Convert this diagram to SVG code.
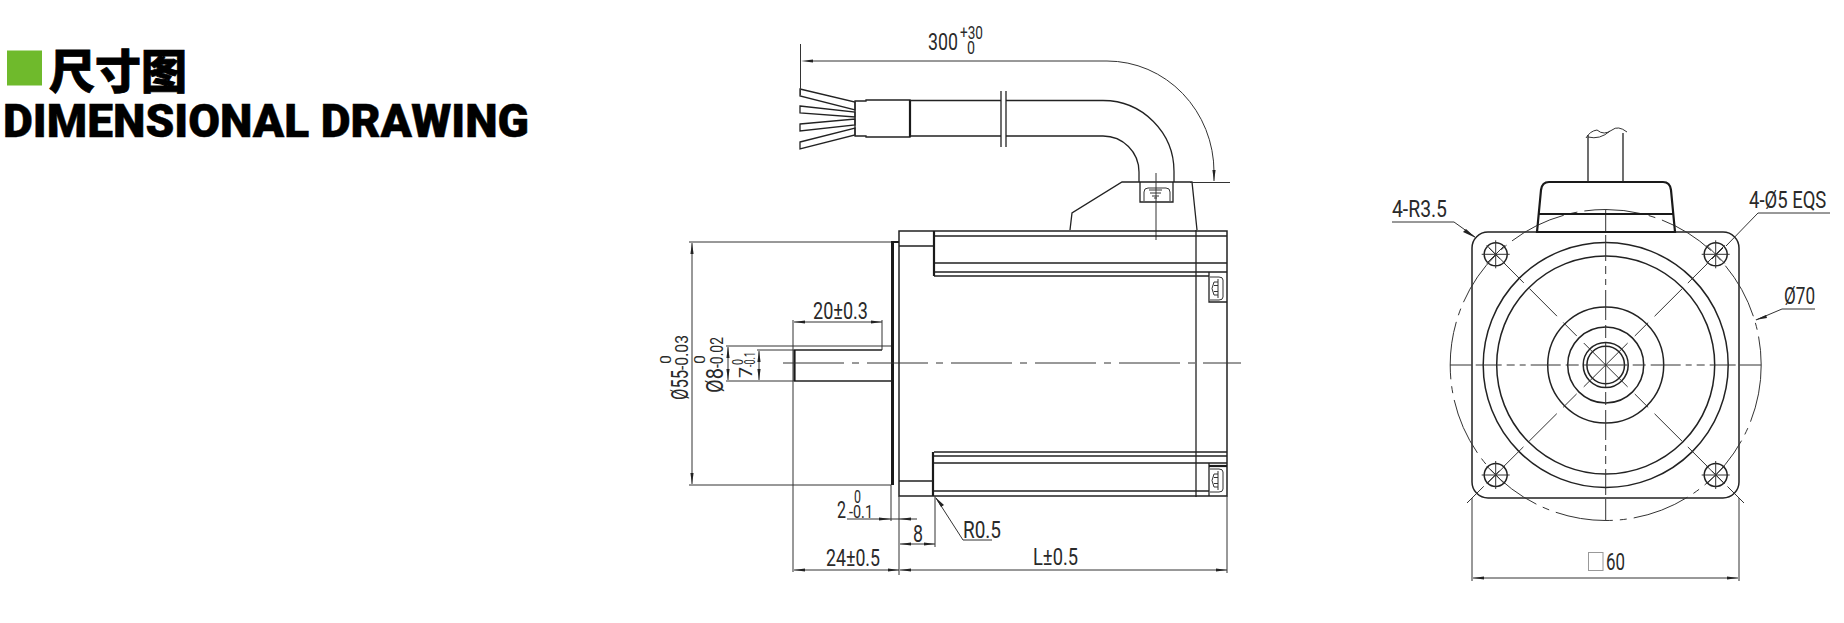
<svg xmlns="http://www.w3.org/2000/svg" width="1844" height="623" viewBox="0 0 1844 623">
<style>
.t{fill:none;stroke:#333;stroke-width:1}
.m{fill:none;stroke:#222;stroke-width:1.3}
.k{fill:none;stroke:#1a1a1a;stroke-width:2.2}
.f{fill:none;stroke:#222;stroke-width:1.5}
.c{fill:none;stroke:#333;stroke-width:1;stroke-dasharray:61 8 7 8}
.h{fill:none;stroke:#333;stroke-width:1;stroke-dasharray:22 5 13 5 30 5 6 5 8 5 26 4 22}
.g{fill:none;stroke:#333;stroke-width:1;stroke-dasharray:31 10 19 9 39 8 28 6 16 6 26}
.d{fill:none;stroke:#333;stroke-width:1;marker-start:url(#as);marker-end:url(#a)}
.e{fill:none;stroke:#333;stroke-width:1;marker-end:url(#a)}
text{font-family:Roboto,"Liberation Sans",sans-serif;fill:#2a2a2a;font-size:24px;font-weight:400}
.s{font-size:18px}
.x{font-size:14px}
</style>
<defs>
<marker id="a" markerUnits="userSpaceOnUse" markerWidth="12" markerHeight="6" refX="11" refY="3" orient="auto"><path d="M0 1.4L11 3L0 4.6Z" fill="#222"/></marker>
<marker id="as" markerUnits="userSpaceOnUse" markerWidth="12" markerHeight="6" refX="1" refY="3" orient="auto"><path d="M12 1.4L1 3L12 4.6Z" fill="#222"/></marker>
<g id="scr"><path class="t" d="M0 0H9Q13 0 13 3V20Q13 23 9 23H0"/><path class="t" d="M8 5H4L2 11.500L4 18H8M8 2V21M4 8.500H8M4 14.500H8"/></g>
<g id="hole"><circle r="11.500" class="f"/><path class="t" d="M-14 0H14M0 -14V14M-9 -9L9 9M-9 9L9 -9"/></g>
</defs>
<g id="title">
<rect x="7" y="50.500" width="35" height="35" fill="#6fba2c"/>
<text x="49" y="88" textLength="138" lengthAdjust="spacingAndGlyphs" style="font-family:'Noto Sans CJK SC','Noto Sans',sans-serif;font-size:46px;font-weight:900;fill:#000;stroke:#000;stroke-width:.8">尺寸图</text>
<text x="3" y="137" textLength="526" lengthAdjust="spacingAndGlyphs" style="font-family:Roboto,'Liberation Sans',sans-serif;font-size:46.500px;font-weight:900;fill:#000;stroke:#000;stroke-width:.5">DIMENSIONAL DRAWING</text>
</g>
<g id="side-view">
<path class="m" d="M800 89L855 102V110L800 96ZM800 106L855 112V117L800 113ZM800 124L855 119V125L800 131ZM800 142L855 128V135L800 149Z"/>
<path class="m" d="M855 101H866V100H910V137H866V136H855Z"/>
<path class="k" d="M910 100V137"/>
<path class="m" d="M910 100.500H1001M1006 100.500H1103A71 71 0 0 1 1174 172V182M910 136H1001M1006 136H1103A36 36 0 0 1 1139 172V182"/>
<path class="m" d="M1001 91V147M1006 91V147"/>
<path class="m" d="M1070 230L1072 213L1122 182H1192L1197 230"/>
<path class="m" d="M1140 182V202H1173V182"/>
<path class="t" d="M1144 201V192Q1144 188 1148 188H1166Q1170 188 1170 192V201M1149 190H1162M1150 193H1161M1152 196H1159M1154 198H1157"/>
<path class="t" d="M1156 173V240"/>
<path class="f" d="M899 231H1227V496H899Z"/>
<path class="m" d="M935 236H1227M899 246H933M934 263H1227M934 272H1227M934 276H1209M1196 230V497M1209 272V302H1227"/>
<path class="k" d="M934 231V276M933 452V496M891 242H899"/>
<path class="k" style="stroke-width:3" d="M892.500 242V485"/>
<path class="m" d="M899 481H933M934 452H1227M934 456H1227M934 463H1227M934 491H1209M1209 463V496"/>
<path class="k" d="M1209 466H1227"/>
<path class="m" d="M794 381H891M794 350H882"/>
<path class="k" d="M794.500 350V381"/>
<use href="#scr" x="1210" y="277"/>
<use href="#scr" x="1210" y="469"/>
<path class="c" d="M783 363H1241"/>
</g>
<g id="front-view">
<rect x="1472" y="232" width="267" height="266" rx="16" class="f"/>
<circle cx="1605.700" cy="365" r="122.500" class="f"/>
<circle cx="1605.700" cy="365" r="109" class="f"/>
<circle cx="1605.700" cy="365" r="58" class="f"/>
<circle cx="1605.700" cy="365" r="38" class="f"/>
<circle cx="1605.700" cy="365" r="22.500" class="f"/>
<circle cx="1605.700" cy="365" r="18.800" class="f"/>
<circle cx="1605.700" cy="365" r="155.500" class="t" stroke-dasharray="58 7 7 7"/>
<path class="h" d="M1605.700 365H1450M1605.700 365H1761M1605.700 365V209M1605.700 365V521"/>
<path class="g" d="M1605.700 365L1467 503M1605.700 365L1744 503M1605.700 365L1489 248M1605.700 365L1723 248"/>
<use href="#hole" x="1495.700" y="254.300"/>
<use href="#hole" x="1715.700" y="254.300"/>
<use href="#hole" x="1495.700" y="475"/>
<use href="#hole" x="1715.700" y="475"/>
<path class="k" d="M1537 232L1541 190Q1542 182 1549 182H1663Q1670 182 1671 190L1675 232ZM1539 214H1673"/>
<path class="m" d="M1588 182V135M1623 182V133"/>
<path class="t" d="M1586 138Q1590 131 1597 130Q1604 136 1612 130Q1618 125 1627 132M1588 137Q1600 140 1610 131"/>
</g>
<g id="dimensions">
<path class="e" d="M1107 61A107 111 0 0 1 1214 172V181"/>
<path class="t" d="M1107 61H811"/>
<path d="M801 61L813 59.500V62.500Z" fill="#222"/>
<path class="t" d="M800.500 44V95M1190 182.500H1230"/>
<path class="t" d="M689 242H891M689 485H891M726 346H891M757 350H794M726 381H794M882 320V350M793 320V572M899 496V575M891 485V521M935 496V547M1227 496V573"/>
<path class="d" d="M692 243V484"/>
<path class="d" d="M728 347V380"/>
<path class="d" d="M759 351V380"/>
<path class="d" d="M794 322H882"/>
<path class="t" d="M847 519H917"/>
<path d="M891 519L879 517.500V520.500ZM899 519L911 517.500V520.500Z" fill="#222"/>
<path class="d" d="M900 544H935"/>
<path class="d" d="M794 570H899"/>
<path class="d" d="M900 570H1227"/>
<path class="d" d="M1473 578H1738"/>
<path class="t" d="M1472 498V581M1739 498V581"/>
<path class="t" d="M992 540H963L936 498"/>
<path d="M935 497L944 505L941 507Z" fill="#222"/>
<path class="t" d="M1392 222H1454L1475 237"/>
<path d="M1476 238L1466 229L1463 232Z" fill="#222"/>
<path class="t" d="M1830 213H1758L1726 246"/>
<path class="t" d="M1815 309H1782L1756 320"/>
<path d="M1755 320L1766 315L1767 318Z" fill="#222"/>
<rect x="1588.500" y="552.500" width="14.500" height="18" fill="none" stroke="#999" stroke-width="1"/>
</g>
<g id="labels">
<text x="928" y="50" textLength="30" lengthAdjust="spacingAndGlyphs">300</text>
<text x="960" y="39" textLength="23" lengthAdjust="spacingAndGlyphs" class="s">+30</text>
<text x="967" y="54" textLength="8" lengthAdjust="spacingAndGlyphs" class="s">0</text>
<text x="813" y="319" textLength="55" lengthAdjust="spacingAndGlyphs">20±0.3</text>
<text x="837" y="518" textLength="9" lengthAdjust="spacingAndGlyphs">2</text>
<text x="854" y="503" textLength="7" lengthAdjust="spacingAndGlyphs" class="s">0</text>
<text x="849" y="518" textLength="24" lengthAdjust="spacingAndGlyphs" class="s">-0.1</text>
<text x="913" y="542" textLength="10" lengthAdjust="spacingAndGlyphs">8</text>
<text x="826" y="566" textLength="54" lengthAdjust="spacingAndGlyphs">24±0.5</text>
<text x="1033" y="565" textLength="45" lengthAdjust="spacingAndGlyphs">L±0.5</text>
<text x="963" y="538" textLength="38" lengthAdjust="spacingAndGlyphs">R0.5</text>
<text transform="translate(688 400) rotate(-90)" textLength="30" lengthAdjust="spacingAndGlyphs">Ø55</text>
<text transform="translate(688 370) rotate(-90)" textLength="35" lengthAdjust="spacingAndGlyphs" class="s">-0.03</text>
<text transform="translate(671 364) rotate(-90)" textLength="9" lengthAdjust="spacingAndGlyphs" class="x">0</text>
<text transform="translate(723 393) rotate(-90)" textLength="25" lengthAdjust="spacingAndGlyphs">Ø8</text>
<text transform="translate(723 368) rotate(-90)" textLength="31" lengthAdjust="spacingAndGlyphs" class="s">-0.02</text>
<text transform="translate(705 364) rotate(-90)" textLength="9" lengthAdjust="spacingAndGlyphs" class="x">0</text>
<text transform="translate(752 378) rotate(-90)" textLength="11" lengthAdjust="spacingAndGlyphs" class="s">7</text>
<text transform="translate(755 367) rotate(-90)" textLength="15" lengthAdjust="spacingAndGlyphs" class="x">-0.1</text>
<text transform="translate(743 365) rotate(-90)" textLength="6" lengthAdjust="spacingAndGlyphs" class="x">0</text>
<text x="1392" y="217" textLength="55" lengthAdjust="spacingAndGlyphs">4-R3.5</text>
<text transform="translate(1749 208) scale(.77 1)">4-Ø5 EQS</text>
<text x="1784" y="304" textLength="31" lengthAdjust="spacingAndGlyphs">Ø70</text>
<text x="1606" y="570" textLength="19" lengthAdjust="spacingAndGlyphs">60</text>
</g>
</svg>
